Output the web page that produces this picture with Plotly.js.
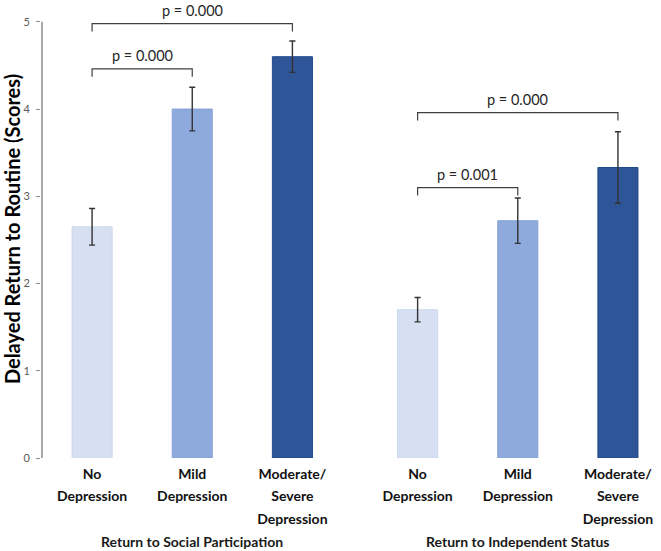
<!DOCTYPE html>
<html>
<head>
<meta charset="utf-8">
<script src="https://cdn.plot.ly/plotly-3.0.1.min.js"></script>
<style>html,body{margin:0;padding:0;background:#fff;}#chart{width:661px;height:551px;}</style>
</head>
<body>
<div id="chart"></div>
<script>
// ---- data ----
const categories = [['No', 'Depression'], ['Mild', 'Depression'], ['Moderate/', 'Severe', 'Depression']];
const groups = ['Return to Social Participation', 'Return to Independent Status'];
const socialMeans = [2.65, 4.00, 4.60];
const socialErrors = [0.21, 0.25, 0.18];
const independentMeans = [1.70, 2.72, 3.33];
const independentErrors = [0.14, 0.26, 0.41];
const yTickValues = [0, 1, 2, 3, 4, 5];
// significance brackets: [group, from category, to category]
const bracketGroup = [0, 0, 1, 1];
const bracketFrom = [0, 0, 0, 0];
const bracketTo = [1, 2, 1, 2];
const bracketLevel = [4.46, 4.98, 3.10, 3.96];
const bracketLabels = ['p = 0.000', 'p = 0.000', 'p = 0.001', 'p = 0.000'];

// ---- styling ----
const barColors = ['#D6E0F2', '#8EA9DB', '#2E5597'];
const barEdges = ['#CCD8EE', '#86A2D6', '#244A8E'];
const groupGap = 3.25;
const pos = (g, c) => g * groupGap + c;
const FONT = 'Lato, Carlito, Calibri, sans-serif';

const seriesMeans = [socialMeans, independentMeans];
const seriesErrors = [socialErrors, independentErrors];

const traces = seriesMeans.map((means, g) => ({
  type: 'bar',
  x: means.map((_, c) => pos(g, c)),
  y: means,
  width: 0.4,
  marker: {color: barColors, line: {color: barEdges, width: 1}},
  error_y: {type: 'data', array: seriesErrors[g], visible: true, color: '#333333', thickness: 1.4, width: 3},
  hoverinfo: 'skip',
  showlegend: false
}));

const tickVals = [], tickText = [];
groups.forEach((_, g) => categories.forEach((lines, c) => {
  tickVals.push(pos(g, c));
  tickText.push(lines.map(t => '<span style="font-size:14px">' + t + '</span>').join('<br>'));
}));

const dropLen = 0.09;
const shapes = [{
  type: 'line', xref: 'x', yref: 'y', x0: -0.5, x1: -0.5, y0: 0, y1: 5,
  line: {color: '#8C8C8C', width: 1.5}
}];
const annotations = [];
bracketLabels.forEach((lab, i) => {
  const x0 = pos(bracketGroup[i], bracketFrom[i]);
  const x1 = pos(bracketGroup[i], bracketTo[i]);
  const y = bracketLevel[i];
  shapes.push({
    type: 'path', xref: 'x', yref: 'y',
    path: `M ${x0} ${y - dropLen} L ${x0} ${y} L ${x1} ${y} L ${x1} ${y - dropLen}`,
    line: {color: '#404040', width: 1.2}
  });
  annotations.push({
    x: (x0 + x1) / 2, y: y, xref: 'x', yref: 'y', text: lab, showarrow: false,
    yanchor: 'bottom', yshift: 3, font: {family: FONT, size: 14.5, color: '#262626'}
  });
});
groups.forEach((gname, g) => {
  annotations.push({
    x: pos(g, 1), y: 0, xref: 'x', yref: 'paper', yanchor: 'top', yshift: -73,
    text: gname, showarrow: false,
    font: {family: FONT, size: 14, color: '#1a1a1a', weight: 'bold'}
  });
});

const layout = {
  width: 661, height: 551,
  margin: {l: 41, r: 4, t: 0, b: 93},
  paper_bgcolor: '#ffffff', plot_bgcolor: '#ffffff',
  xaxis: {
    range: [-0.51, 5.64], tickvals: tickVals, ticktext: tickText,
    showgrid: false, zeroline: false, showline: false, ticks: '',
    ticklabelstandoff: 2,
    tickfont: {family: FONT, size: 17.5, color: '#111111', weight: 'bold'}
  },
  yaxis: {
    range: [0, 5.25], tickvals: yTickValues, showgrid: false, zeroline: false, showline: false,
    ticks: 'outside', ticklen: 4, tickcolor: '#8C8C8C', tickwidth: 1,
    ticklabelstandoff: 4,
    tickfont: {family: FONT, size: 11, color: '#595959'},
    title: {text: 'Delayed Return to Routine (Scores)', standoff: 6,
      font: {family: FONT, size: 20, color: '#000000', weight: 'bold'}}
  },
  shapes: shapes,
  annotations: annotations,
  bargap: 0
};

Plotly.newPlot('chart', traces, layout, {displayModeBar: false, staticPlot: true});
</script>
</body>
</html>
